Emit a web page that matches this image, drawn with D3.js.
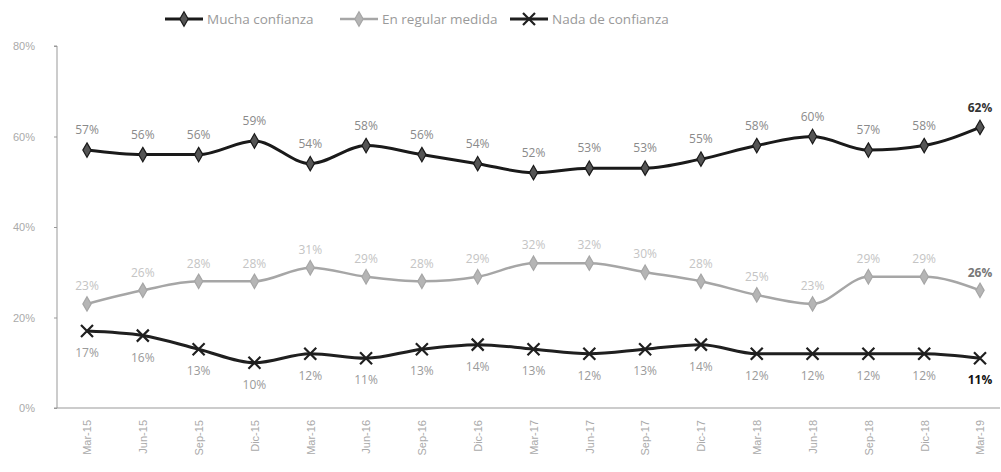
<!DOCTYPE html>
<html>
<head>
<meta charset="utf-8">
<script src="https://cdn.jsdelivr.net/npm/d3@7/dist/d3.min.js"></script>
<style>
  html, body { margin: 0; padding: 0; background: #fff; }
  svg { display: block; font-family: "Open Sans", "Liberation Sans", sans-serif; }
</style>
</head>
<body>
<svg id="chart" width="1001" height="472"></svg>
<script>
// Quarterly survey periods
const periods = ["Mar-15","Jun-15","Sep-15","Dic-15","Mar-16","Jun-16","Sep-16","Dic-16",
                 "Mar-17","Jun-17","Sep-17","Dic-17","Mar-18","Jun-18","Sep-18","Dic-18","Mar-19"];

// Share of respondents per answer (%)
const muchaConfianza = [57,56,56,59,54,58,56,54,52,53,53,55,58,60,57,58,62];
const regularMedida  = [23,26,28,28,31,29,28,29,32,32,30,28,25,23,29,29,26];
const nadaConfianza  = [17,16,13,10,12,11,13,14,13,12,13,14,12,12,12,12,11];

const yTicks = [0, 20, 40, 60, 80];

const seriesNames = ["Mucha confianza", "En regular medida", "Nada de confianza"];

const svg = d3.select("#chart");

const x = d3.scalePoint().domain(periods).range([87, 980]);
const y = d3.scaleLinear().domain([0, 80]).range([408, 46]);

// Axes
const yAxis = d3.axisLeft(y).tickValues(yTicks).tickFormat(d => d + "%").tickSize(3);
const gy = svg.append("g").attr("transform", "translate(57,0)").call(yAxis);
gy.select(".domain").attr("stroke", "#999").attr("d", "M-3,46H0V408H-3");
gy.selectAll(".tick line").attr("stroke", "#999");
gy.selectAll(".tick text").attr("fill", "#aaa").attr("font-size", 11).attr("x", -22);

const xAxis = d3.axisBottom(x).tickSize(0);
const gx = svg.append("g").attr("transform", "translate(0,408)").call(xAxis);
gx.select(".domain").attr("stroke", "#999").attr("d", "M57,0H1000");
gx.selectAll(".tick text")
  .attr("fill", "#aaa").attr("font-size", 11)
  .attr("transform", "rotate(-90)")
  .attr("text-anchor", "end")
  .attr("x", -12).attr("y", 0).attr("dy", "0.35em");

const line = d3.line()
  .x((d, i) => x(periods[i]))
  .y(d => y(d))
  .curve(d3.curveMonotoneX);

const diamond = d3.symbol().type(d3.symbolDiamond).size(60);

function drawXMarker(g, cx, cy, color) {
  const s = 6;
  g.append("path")
    .attr("d", `M${cx - s},${cy - s}L${cx + s},${cy + s}M${cx - s},${cy + s}L${cx + s},${cy - s}`)
    .attr("stroke", color).attr("stroke-width", 2.2).attr("fill", "none");
}

const series = [
  { name: seriesNames[0], values: muchaConfianza, color: "#1a1a1a", width: 3, marker: "diamond", markerFill: "#555", labelDy: -20, labelColor: "#8a8a8a", lastColor: "#333" },
  { name: seriesNames[1], values: regularMedida,  color: "#a6a6a6", width: 2.5, marker: "diamond", markerFill: "#b5b5b5", labelDy: -18, labelColor: "#c4c4c4", lastColor: "#777" },
  { name: seriesNames[2], values: nadaConfianza,  color: "#1f1f1f", width: 3, marker: "x", markerFill: "#333", labelDy: 22, labelColor: "#9a9a9a", lastColor: "#111" }
];

series.forEach(s => {
  const g = svg.append("g");
  g.append("path")
    .datum(s.values)
    .attr("d", line)
    .attr("fill", "none")
    .attr("stroke", s.color)
    .attr("stroke-width", s.width);

  s.values.forEach((v, i) => {
    const cx = x(periods[i]), cy = y(v);
    if (s.marker === "diamond") {
      g.append("path")
        .attr("d", diamond())
        .attr("transform", `translate(${cx},${cy})`)
        .attr("fill", s.markerFill)
        .attr("stroke", s.color)
        .attr("stroke-width", 1.2);
    } else {
      drawXMarker(g, cx, cy, s.color);
    }
    const last = i === s.values.length - 1;
    g.append("text")
      .attr("x", cx)
      .attr("y", cy + s.labelDy)
      .attr("dy", "0.35em")
      .attr("text-anchor", "middle")
      .attr("font-size", 12)
      .attr("font-weight", last ? "bold" : "normal")
      .attr("fill", last ? s.lastColor : s.labelColor)
      .text(v + "%");
  });
});

// Legend
const legendX = [163, 338, 508];
series.forEach((s, i) => {
  const lg = svg.append("g").attr("transform", `translate(${legendX[i]},19)`);
  lg.append("line").attr("x1", 2).attr("x2", 40).attr("y1", 0).attr("y2", 0)
    .attr("stroke", s.color).attr("stroke-width", s.width);
  if (s.marker === "diamond") {
    lg.append("path").attr("d", diamond()).attr("transform", "translate(21,0)")
      .attr("fill", s.markerFill).attr("stroke", s.color).attr("stroke-width", 1.2);
  } else {
    drawXMarker(lg, 21, 0, s.color);
  }
  lg.append("text").attr("x", 44).attr("y", 0).attr("dy", "0.35em")
    .attr("font-size", 13.5).attr("fill", "#9a9a9a").text(s.name);
});
</script>
</body>
</html>
